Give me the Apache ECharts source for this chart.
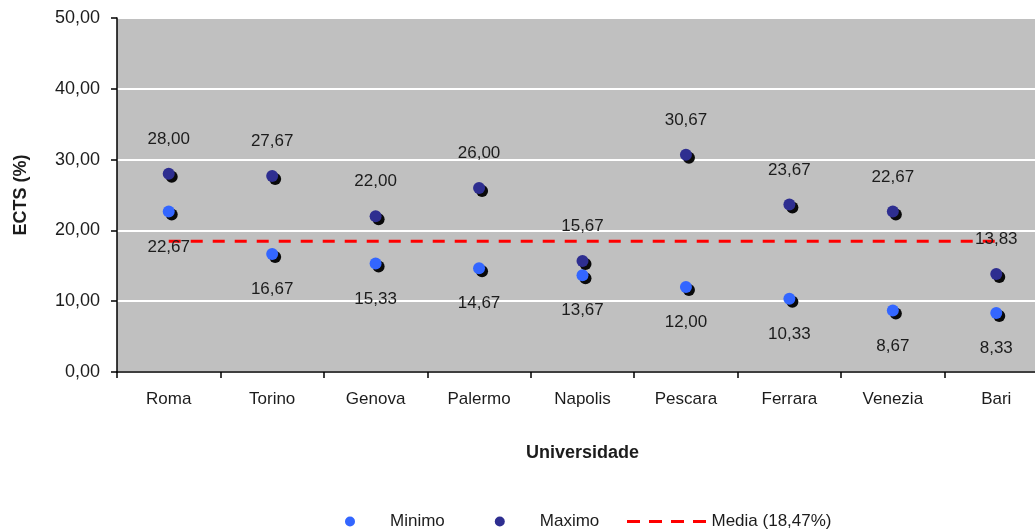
<!DOCTYPE html>
<html>
<head>
<meta charset="utf-8">
<script src="https://cdn.jsdelivr.net/npm/echarts@6/dist/echarts.min.js"></script>
<style>
  html, body { margin: 0; padding: 0; background: #fff; }
  #chart { width: 1035px; height: 529px; }
</style>
</head>
<body>
<div id="chart"></div>
<script>
const universidades = ['Roma', 'Torino', 'Genova', 'Palermo', 'Napolis', 'Pescara', 'Ferrara', 'Venezia', 'Bari']
const minimo = [22.67, 16.67, 15.33, 14.67, 13.67, 12.00, 10.33, 8.67, 8.33]
const maximo = [28.00, 27.67, 22.00, 26.00, 15.67, 30.67, 23.67, 22.67, 13.83]
const media = [18.47, 18.47, 18.47, 18.47, 18.47, 18.47, 18.47, 18.47, 18.47]

const fmt = v => v.toFixed(2).replace('.', ',')
const font = 'Liberation Sans, Arial, sans-serif'
const txt = '#1c1c1c'

const dotShadow = {
  opacity: 1,
  shadowColor: 'rgba(0,0,0,0.95)',
  shadowBlur: 0,
  shadowOffsetX: 3,
  shadowOffsetY: 3
}

const option = {
  backgroundColor: '#fff',
  textStyle: { fontFamily: font },
  grid: {
    left: 117,
    top: 18,
    right: -13,
    bottom: 157,
    outerBoundsMode: 'none',
    show: true,
    backgroundColor: '#c0c0c0',
    borderWidth: 0
  },
  legend: [
    {
      data: ['Minimo', 'Maximo'],
      left: 340,
      top: 508,
      itemWidth: 10,
      itemHeight: 10,
      itemGap: 50,
      textStyle: { color: txt, fontSize: 17, fontFamily: font, padding: [0, 0, 0, 30] }
    },
    {
      data: [{
        name: 'Media (18,47%)',
        icon: 'path://M0,0h13v3h-13z M22,0h13v3h-13z M44,0h13v3h-13z M66,0h13v3h-13z',
        itemStyle: { color: '#ff0000' }
      }],
      left: 622,
      top: 508,
      itemWidth: 80,
      itemHeight: 3,
      textStyle: { color: txt, fontSize: 17, fontFamily: font }
    }
  ],
  xAxis: {
    type: 'category',
    data: universidades,
    name: 'Universidade',
    nameLocation: 'middle',
    nameGap: 72,
    nameTextStyle: { color: txt, fontSize: 18, fontWeight: 'bold', fontFamily: font },
    axisLine: { lineStyle: { color: '#000', width: 1.5 } },
    axisTick: { show: true, length: 6, lineStyle: { color: '#000', width: 1.5 } },
    axisLabel: { color: txt, fontSize: 17, margin: 19, fontFamily: font },
    splitLine: { show: false }
  },
  yAxis: {
    type: 'value',
    min: 0,
    max: 50,
    interval: 10,
    name: 'ECTS (%)',
    nameLocation: 'middle',
    nameGap: 87,
    nameTextStyle: { color: txt, fontSize: 18, fontWeight: 'bold', fontFamily: font },
    axisLine: { show: true, lineStyle: { color: '#000', width: 1.5 } },
    axisTick: { show: true, length: 6, lineStyle: { color: '#000', width: 1.5 } },
    axisLabel: { color: txt, fontSize: 18, margin: 17, fontFamily: font, formatter: v => fmt(v) },
    splitLine: { show: true, lineStyle: { color: '#fff', width: 2 } }
  },
  series: [
    {
      name: 'Minimo',
      type: 'scatter',
      symbol: 'circle',
      symbolSize: 12,
      data: minimo,
      itemStyle: Object.assign({ color: '#3366ff' }, dotShadow),
      label: {
        show: true,
        position: 'bottom',
        distance: 21,
        color: txt,
        fontSize: 17,
        fontFamily: font,
        formatter: p => fmt(p.value)
      },
      z: 3
    },
    {
      name: 'Maximo',
      type: 'scatter',
      symbol: 'circle',
      symbolSize: 12,
      data: maximo,
      itemStyle: Object.assign({ color: '#2e2e90' }, dotShadow),
      label: {
        show: true,
        position: 'top',
        distance: 20,
        color: txt,
        fontSize: 17,
        fontFamily: font,
        formatter: p => fmt(p.value)
      },
      z: 3
    },
    {
      name: 'Media (18,47%)',
      type: 'line',
      data: media,
      symbol: 'none',
      silent: true,
      lineStyle: { color: '#ff0000', width: 3, type: [12, 10] },
      itemStyle: { color: '#ff0000' },
      z: 2
    }
  ]
}

const myChart = echarts.init(document.getElementById('chart'))
myChart.setOption(option)
window.onresize = function () {
  myChart.resize()
}
</script>
</body>
</html>
